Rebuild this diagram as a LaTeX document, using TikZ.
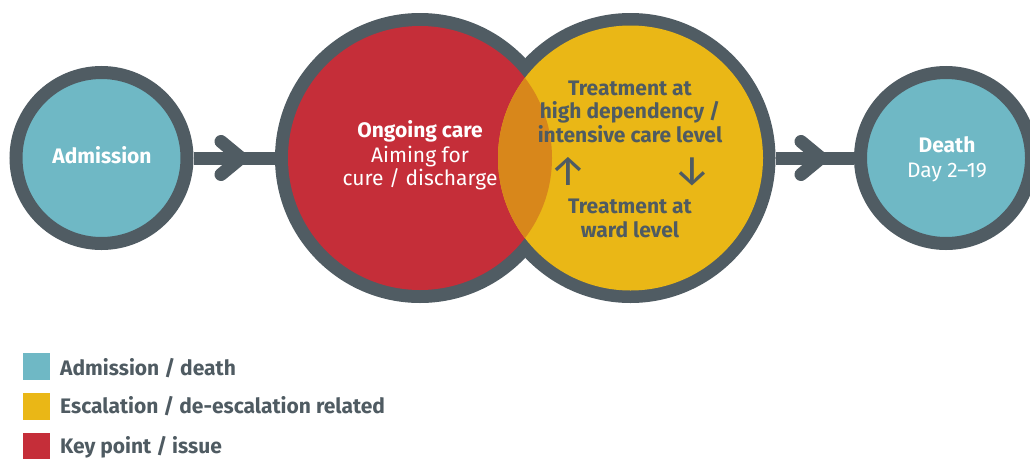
\documentclass[tikz,border=0pt]{standalone}
\usepackage{fontspec}
\setmainfont{Fira Sans}
\usetikzlibrary{calc}
\definecolor{ringc}{HTML}{505C63}
\definecolor{tealc}{HTML}{6FB8C5}
\definecolor{redc}{HTML}{C52E39}
\definecolor{yelc}{HTML}{EAB716}
\definecolor{orac}{HTML}{D8871B}
\definecolor{txtc}{HTML}{4F5B62}
\begin{document}
\begin{tikzpicture}[x=1pt,y=-1pt,
  endcircle/.style={circle, draw=ringc, fill=tealc, line width=13pt, minimum size=171pt, inner sep=0pt},
  bigcircle/.style={circle, minimum size=290pt, inner sep=0pt},
  conn/.style={draw=ringc, line width=13pt},
  chev/.style={draw=ringc, line width=13pt, line cap=round, line join=round},
  lbl/.style={anchor=base, inner sep=0pt, font=\fontsize{21}{24}\selectfont},
  blbl/.style={lbl, font=\fontsize{21}{24}\selectfont\bfseries},
  arr/.style={anchor=center, inner sep=0pt, text=txtc, font=\fontsize{42}{42}\selectfont},
  legsq/.style={minimum size=27pt, inner sep=0pt},
  legtxt/.style={anchor=base west, inner sep=0pt, text=txtc, font=\fontsize{21}{24}\selectfont\bfseries}]
\useasboundingbox (0,0) rectangle (1030,458);
% circles (positions)
\node[bigcircle] (red) at (420,158) {};
\node[bigcircle] (yel) at (630.5,158) {};
% connectors
\node[circle, minimum size=184pt, inner sep=0pt] (admB) at (101.5,158) {};
\node[circle, minimum size=184pt, inner sep=0pt] (deathB) at (946,158) {};
\draw[conn] (admB) -- (red);
\draw[conn] (yel) -- (deathB);
\coordinate (t1) at (241,158);
\coordinate (t2) at (821,158);
\draw[chev] ($(t1)+(-20,-16.5)$) -- (t1) -- ($(t1)+(-20,16.5)$);
\draw[chev] ($(t2)+(-20,-16.5)$) -- (t2) -- ($(t2)+(-20,16.5)$);
% end circles
\node[endcircle] (adm) at (101.5,158) {};
\node[endcircle] (death) at (946,158) {};
% big circles
\fill[ringc] (red.center) circle[radius=145pt];
\fill[ringc] (yel.center) circle[radius=145pt];
\fill[redc] (red.center) circle[radius=132pt];
\fill[yelc] (yel.center) circle[radius=132.5pt];
\begin{scope}
  \clip (red.center) circle[radius=132pt];
  \fill[orac] (yel.center) circle[radius=132.5pt];
\end{scope}
% texts
\node[blbl, text=white] (admT) at (102,163) {Admission};
\node[blbl, text=white] (og1) at (420,137) {Ongoing care};
\node[lbl, text=white] (og2) at (420,162) {Aiming for};
\node[lbl, text=white] (og3) at (420,185) {cure / discharge};
\node[blbl, text=txtc] (hd1) at (630,95) {Treatment at};
\node[blbl, text=txtc] (hd2) at (630,118.5) {high dependency /};
\node[blbl, text=txtc] (hd3) at (630,142) {intensive care level};
\node[blbl, text=txtc] (wd1) at (630,213) {Treatment at};
\node[blbl, text=txtc] (wd2) at (630,237) {ward level};
\node[arr] (up) at (568,171.5) {↑};
\node[arr] (down) at (692,171.5) {↓};
\node[blbl, text=white] (dt1) at (947,152) {Death};
\node[lbl, text=white] (dt2) at (947,177) {Day 2–19};
% legend
\node[legsq, fill=tealc] (k1) at (36.5,366.5) {};
\node[legsq, fill=yelc] (k2) at (36.5,406.5) {};
\node[legsq, fill=redc] (k3) at (36.5,446.5) {};
\node[legtxt] (l1) at (60,375) {Admission / death};
\node[legtxt] (l2) at (60,413) {Escalation / de-escalation related};
\node[legtxt] (l3) at (60,453) {Key point / issue};
\end{tikzpicture}
\end{document}
